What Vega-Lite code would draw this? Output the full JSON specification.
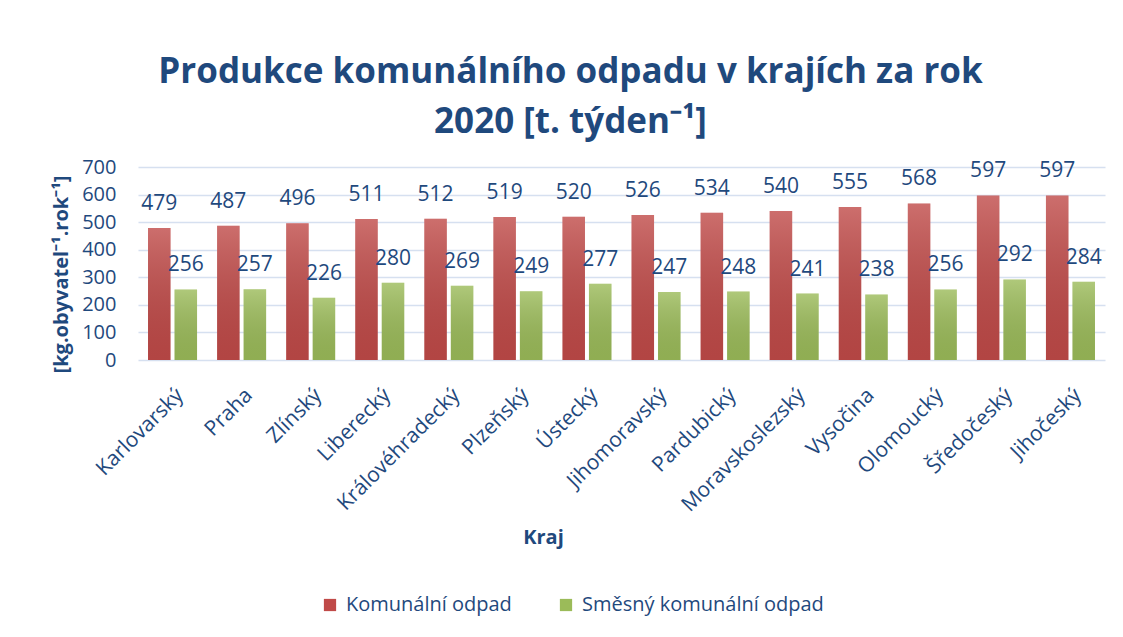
{
  "$schema": "https://vega.github.io/schema/vega-lite/v6.json",
  "width": 967,
  "height": 193,
  "autosize": "none",
  "padding": {"left": 138, "top": 167, "right": 18, "bottom": 277},
  "background": "white",
  "config": {"view": {"stroke": null}, "font": "Open Sans"},
  "title": {
    "text": ["Produkce komunálního odpadu v krajích za rok", "2020 [t. týden⁻¹]"],
    "font": "Open Sans",
    "fontSize": 35,
    "fontWeight": "bold",
    "color": "#1F497D",
    "lineHeight": 50,
    "anchor": "middle",
    "dx": -51,
    "offset": 17
  },
  "data": {
    "values": [
      {"kraj": "Karlovarský", "typ": "Komunální odpad", "hodnota": 479},
      {"kraj": "Karlovarský", "typ": "Směsný komunální odpad", "hodnota": 256},
      {"kraj": "Praha", "typ": "Komunální odpad", "hodnota": 487},
      {"kraj": "Praha", "typ": "Směsný komunální odpad", "hodnota": 257},
      {"kraj": "Zlínský", "typ": "Komunální odpad", "hodnota": 496},
      {"kraj": "Zlínský", "typ": "Směsný komunální odpad", "hodnota": 226},
      {"kraj": "Liberecký", "typ": "Komunální odpad", "hodnota": 511},
      {"kraj": "Liberecký", "typ": "Směsný komunální odpad", "hodnota": 280},
      {"kraj": "Královéhradecký", "typ": "Komunální odpad", "hodnota": 512},
      {"kraj": "Královéhradecký", "typ": "Směsný komunální odpad", "hodnota": 269},
      {"kraj": "Plzeňský", "typ": "Komunální odpad", "hodnota": 519},
      {"kraj": "Plzeňský", "typ": "Směsný komunální odpad", "hodnota": 249},
      {"kraj": "Ústecký", "typ": "Komunální odpad", "hodnota": 520},
      {"kraj": "Ústecký", "typ": "Směsný komunální odpad", "hodnota": 277},
      {"kraj": "Jihomoravský", "typ": "Komunální odpad", "hodnota": 526},
      {"kraj": "Jihomoravský", "typ": "Směsný komunální odpad", "hodnota": 247},
      {"kraj": "Pardubický", "typ": "Komunální odpad", "hodnota": 534},
      {"kraj": "Pardubický", "typ": "Směsný komunální odpad", "hodnota": 248},
      {"kraj": "Moravskoslezský", "typ": "Komunální odpad", "hodnota": 540},
      {"kraj": "Moravskoslezský", "typ": "Směsný komunální odpad", "hodnota": 241},
      {"kraj": "Vysočina", "typ": "Komunální odpad", "hodnota": 555},
      {"kraj": "Vysočina", "typ": "Směsný komunální odpad", "hodnota": 238},
      {"kraj": "Olomoucký", "typ": "Komunální odpad", "hodnota": 568},
      {"kraj": "Olomoucký", "typ": "Směsný komunální odpad", "hodnota": 256},
      {"kraj": "Šředočeský", "typ": "Komunální odpad", "hodnota": 597},
      {"kraj": "Šředočeský", "typ": "Směsný komunální odpad", "hodnota": 292},
      {"kraj": "Jihočeský", "typ": "Komunální odpad", "hodnota": 597},
      {"kraj": "Jihočeský", "typ": "Směsný komunální odpad", "hodnota": 284}
    ]
  },
  "encoding": {
    "x": {
      "field": "kraj",
      "type": "nominal",
      "sort": null,
      "scale": {"paddingInner": 0.29, "paddingOuter": 0.145},
      "axis": {
        "title": "Kraj",
        "titleFont": "Open Sans",
        "titleFontSize": 20,
        "titleFontWeight": "bold",
        "titleColor": "#1F497D",
        "titleX": 405,
        "titleY": 177,
        "titleBaseline": "middle",
        "labelAngle": -45,
        "labelFont": "Open Sans",
        "labelFontSize": 21,
        "labelColor": "#1F497D",
        "labelPadding": 24,
        "domain": false,
        "ticks": false
      }
    },
    "xOffset": {
      "field": "typ",
      "type": "nominal",
      "sort": ["Komunální odpad", "Směsný komunální odpad"],
      "scale": {"paddingInner": 0.15, "paddingOuter": 0}
    },
    "y": {
      "field": "hodnota",
      "type": "quantitative",
      "scale": {"domain": [0, 700], "nice": false},
      "axis": {
        "title": "[kg.obyvatel⁻¹.rok⁻¹]",
        "titleFont": "Open Sans",
        "titleFontSize": 20,
        "titleFontWeight": "bold",
        "titleColor": "#1F497D",
        "titlePadding": 10,
        "titleY": 107,
        "values": [0, 100, 200, 300, 400, 500, 600, 700],
        "labelFont": "Open Sans",
        "labelFontSize": 20,
        "labelColor": "#1F497D",
        "labelPadding": 22,
        "ticks": false,
        "domain": false,
        "gridColor": "#D6E0F0",
        "gridWidth": 1.5
      }
    }
  },
  "layer": [
    {
      "mark": {"type": "bar"},
      "encoding": {
        "color": {
          "field": "typ",
          "type": "nominal",
          "scale": {
            "domain": ["Komunální odpad", "Směsný komunální odpad"],
            "range": ["#C04A48", "#9BBB59"]
          },
          "legend": {
            "title": null,
            "orient": "none",
            "legendX": 182,
            "legendY": 428,
            "direction": "horizontal",
            "symbolType": "square",
            "symbolSize": 150,
            "symbolStrokeWidth": 0,
            "labelFont": "Open Sans",
            "labelFontSize": 20,
            "labelColor": "#1F497D",
            "labelOffset": 6,
            "labelLimit": 0,
            "columnPadding": 44
          }
        }
      }
    },
    {
      "mark": {
        "type": "bar",
        "fill": {
          "gradient": "linear",
          "x1": 0, "y1": 0, "x2": 0, "y2": 1,
          "stops": [
            {"offset": 0, "color": "rgba(255,255,255,0.2)"},
            {"offset": 1, "color": "rgba(0,0,0,0.07)"}
          ]
        }
      }
    },
    {
      "mark": {
        "type": "text",
        "baseline": "alphabetic",
        "dy": -18,
        "font": "Open Sans",
        "fontSize": 21,
        "color": "#1F497D"
      },
      "encoding": {"text": {"field": "hodnota", "type": "quantitative"}}
    }
  ]
}
